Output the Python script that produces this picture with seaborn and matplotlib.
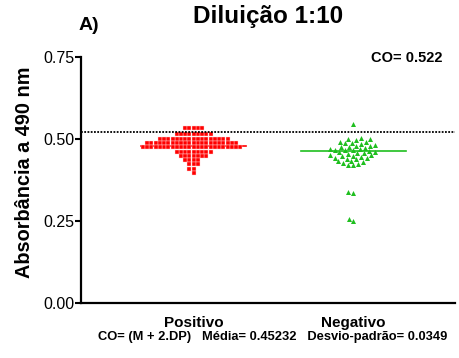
import numpy as np
import pandas as pd
import matplotlib
matplotlib.use("Agg")
import matplotlib.pyplot as plt
import seaborn as sns

# Data (absorbance at 490 nm)
categories = ["Positivo", "Negativo"]

pos_values = [
    0.534, 0.534, 0.534, 0.534, 0.534,
    0.514, 0.514, 0.514, 0.514, 0.514, 0.514, 0.514, 0.514, 0.514,
    0.501, 0.501, 0.501, 0.501, 0.501, 0.501, 0.501, 0.501, 0.501, 0.501,
    0.501, 0.501, 0.501, 0.501, 0.501, 0.501, 0.501,
    0.488, 0.488, 0.488, 0.488, 0.488, 0.488, 0.488, 0.488, 0.488, 0.488,
    0.488, 0.488, 0.488, 0.488, 0.488, 0.488, 0.488, 0.488, 0.488, 0.488,
    0.488, 0.488,
    0.475, 0.475, 0.475, 0.475, 0.475, 0.475, 0.475, 0.475, 0.475, 0.475,
    0.475, 0.475, 0.475, 0.475, 0.475, 0.475, 0.475, 0.475, 0.475, 0.475,
    0.475, 0.475, 0.475, 0.475,
    0.462, 0.462, 0.462, 0.462, 0.462, 0.462, 0.462, 0.462, 0.462,
    0.449, 0.449, 0.449, 0.449, 0.449, 0.449, 0.449,
    0.436, 0.436, 0.436, 0.436,
    0.423, 0.423, 0.423,
    0.410, 0.410,
    0.397,
]

neg_values = [
    0.546,
    0.503, 0.500, 0.499, 0.497,
    0.492, 0.490, 0.489, 0.487, 0.485,
    0.482, 0.480, 0.479, 0.477, 0.476, 0.474,
    0.471, 0.470, 0.468, 0.467, 0.466, 0.464,
    0.461, 0.460, 0.458, 0.457, 0.455,
    0.452, 0.450, 0.449, 0.447, 0.446,
    0.443, 0.441, 0.440, 0.438,
    0.434, 0.432, 0.430, 0.428,
    0.424, 0.422, 0.420,
    0.338, 0.336,
    0.256, 0.250,
]

pos_line = 0.478
neg_line = 0.463
cutoff = 0.522

df_pos = pd.DataFrame({"grupo": "Positivo", "abs": pos_values})
df_neg = pd.DataFrame({"grupo": "Negativo", "abs": neg_values})

plt.rcParams["font.family"] = ["Liberation Sans", "DejaVu Sans"]

fig = plt.figure(figsize=(4.59, 3.58), dpi=100)
ax = fig.add_axes([0.1765, 0.1536, 0.815, 0.687])

sns.swarmplot(data=df_pos, x="grupo", y="abs", order=categories, marker="s",
              color="#ff0000", size=2.6, edgecolor="#ffd0d0", linewidth=0.3, ax=ax)
sns.swarmplot(data=df_neg, x="grupo", y="abs", order=categories, marker="^",
              color="#1fbf1f", size=3.6, linewidth=0, ax=ax)

# median lines
ax.plot([-0.33, 0.33], [pos_line, pos_line], color="#ff0000", lw=1.2, zorder=1)
ax.plot([0.67, 1.33], [neg_line, neg_line], color="#1fbf1f", lw=1.2, zorder=1)

# cut-off
ax.axhline(cutoff, color="black", lw=1.3, ls=(0, (1, 0.8)), zorder=3)

ax.set_xlim(-0.706, 1.6375)
ax.set_ylim(0, 0.75)
ax.set_yticks([0.0, 0.25, 0.5, 0.75])
ax.set_yticklabels(["0.00", "0.25", "0.50", "0.75"], fontsize=11.5)
ax.set_xticks([0, 1])
ax.set_xticklabels(categories, fontsize=11, fontweight="bold")
ax.tick_params(axis="x", length=0, pad=9)
ax.tick_params(axis="y", length=4, width=1.5, pad=1)
ax.set_xlabel("")
ax.set_ylabel("")
fig.text(0.053, 0.52, "Absorbância a 490 nm", rotation=90, ha="center", va="center",
         fontsize=14.3, fontweight="bold")

for s in ["top", "right"]:
    ax.spines[s].set_visible(False)
for s in ["left", "bottom"]:
    ax.spines[s].set_linewidth(1.6)

fig.text(0.584, 0.955, "Diluição 1:10", ha="center", va="center",
         fontsize=17.5, fontweight="bold")
fig.text(0.194, 0.93, "A)", ha="center", va="center", fontsize=14, fontweight="bold")
ax.text(0.965, 0.995, "CO= 0.522", transform=ax.transAxes, ha="right", va="center",
        fontsize=10.5, fontweight="bold")
fig.text(0.595, 0.058, "CO= (M + 2.DP)   Média= 0.45232   Desvio-padrão= 0.0349",
         ha="center", va="center", fontsize=9.3, fontweight="bold")

fig.savefig("out.png", dpi=100)
